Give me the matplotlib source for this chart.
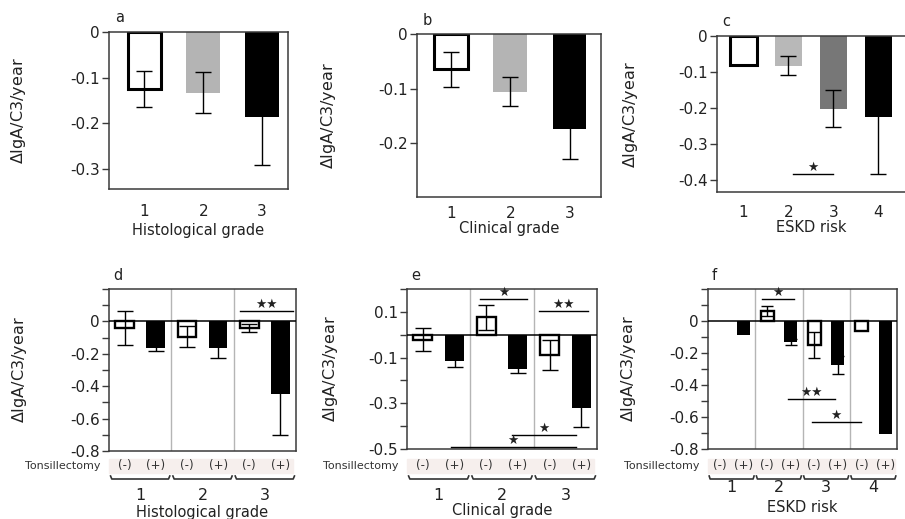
import matplotlib
matplotlib.use("Agg")
import matplotlib.pyplot as plt
import numpy as np
from matplotlib.transforms import blended_transform_factory

plt.rcParams["font.family"] = ["DejaVu Sans"]
plt.rcParams["axes.unicode_minus"] = False

W, H = 905, 519
YLAB = "$\\mathit{\\Delta}$IgA/C3/year"

# ---- top row: overall change per category ----
hist_cats = ["1", "2", "3"]
hist_mean = [-0.125, -0.133, -0.187]
hist_err = [0.039, 0.045, 0.104]

clin_cats = ["1", "2", "3"]
clin_mean = [-0.064, -0.105, -0.174]
clin_err = [0.032, 0.026, 0.055]

eskd_cats = ["1", "2", "3", "4"]
eskd_mean = [-0.080, -0.082, -0.202, -0.224]
eskd_err = [0.0, 0.026, 0.052, 0.160]

# ---- bottom row: (-)/(+) tonsillectomy pairs per category ----
tx_labels = ["(-)", "(+)"]
hist_tx_mean = [-0.043, -0.165, -0.094, -0.165, -0.041, -0.447]
hist_tx_err = [0.105, 0.015, 0.064, 0.060, 0.025, 0.253]
clin_tx_mean = [-0.021, -0.116, 0.076, -0.148, -0.088, -0.322]
clin_tx_err = [0.050, 0.027, 0.055, 0.020, 0.067, 0.082]
eskd_tx_mean = [np.nan, -0.085, 0.065, -0.133, -0.150, -0.275, -0.060, -0.708]
eskd_tx_err = [0.0, 0.0, 0.031, 0.019, 0.083, 0.058, 0.0, 0.0]

# significance bars: (x from, x to, y, stars)
sig_c = [(1.1, 2.0, -0.382, "★")]
sig_d = [(3.7, 5.4, 0.063, "★★")]
sig_e = [(1.8, 3.3, 0.158, "★"), (3.66, 5.2, 0.103, "★★"),
         (2.8, 4.83, -0.439, "★"), (0.88, 4.83, -0.49, "★")]
sig_f = [(1.77, 3.14, 0.135, "★"), (2.89, 4.88, -0.49, "★★"),
         (3.89, 5.97, -0.629, "★")]


def px_rect(x0, y0, x1, y1):
    return [x0 / W, 1 - y1 / H, (x1 - x0) / W, (y1 - y0) / H]


def fy(ypix):
    return 1 - ypix / H


fig = plt.figure(figsize=(W / 100, H / 100), dpi=100)
fig.patch.set_facecolor("white")

SPINE = "#3a3a3a"
TXT = "#222222"


def style_axes(ax, right=True):
    for s in ax.spines.values():
        s.set_color(SPINE)
        s.set_linewidth(1.1)
    ax.spines["right"].set_visible(right)
    ax.tick_params(axis="y", direction="out", length=5, width=1.0,
                   color=SPINE, pad=1.5, labelsize=11, labelcolor=TXT)


def draw_sig(ax, sigs):
    for x0, x1, y, st in sigs:
        ax.plot([x0, x1], [y, y], color="black", lw=1.0, zorder=5)
        ax.text((x0 + x1) / 2, y, st, ha="center", va="bottom",
                fontsize=9, color=TXT, zorder=6)


def top_panel(rect, cats, mean, err, colors, ylim, yticks, xlim, xlabel,
              letter, ylab_px, right=True, width=0.57, tpad=9, lpad=0):
    ax = fig.add_axes(px_rect(*rect))
    x = np.arange(len(cats))
    for i in range(len(cats)):
        if colors[i] == "open":
            ax.bar(x[i], mean[i], width, color="white", edgecolor="black",
                   linewidth=2.2, zorder=2)
        else:
            ax.bar(x[i], mean[i], width, color=colors[i], zorder=2)
        if err[i] > 0:
            ax.errorbar(x[i], mean[i], yerr=err[i], color="black",
                        elinewidth=1.0, capsize=6, capthick=1.0, zorder=3)
    ax.set_xlim(*xlim)
    ax.set_ylim(*ylim)
    ax.set_yticks(yticks)
    ax.set_yticklabels(["0" if t == 0 else f"{t:.1f}" for t in yticks])
    ax.set_xticks(x)
    ax.set_xticklabels(cats, fontsize=11, color=TXT)
    ax.tick_params(axis="x", length=0, pad=tpad)
    ax.set_xlabel(xlabel, fontsize=10.5, labelpad=lpad, color=TXT)
    style_axes(ax, right)
    ax.set_ylabel(YLAB, fontsize=11.5, va="center", color=TXT)
    ax.yaxis.set_label_coords((ylab_px - rect[0]) / (rect[2] - rect[0]), 0.5)
    fig.text((rect[0] + 6) / W, fy(rect[1] - 14), letter, fontsize=10.5,
             ha="left", va="center", color=TXT)
    return ax


def bottom_panel(rect, mean, err, ngroups, ylim, yticks, ylabels, xlabel,
                 letter, ylab_px, num_py, xl_py, width=0.6, capsize=5.5):
    ax = fig.add_axes(px_rect(*rect))
    n = 2 * ngroups
    x = np.arange(n)
    for i in range(n):
        if np.isnan(mean[i]):
            continue
        if i % 2 == 0:
            ax.bar(x[i], mean[i], width, color="white", edgecolor="black",
                   linewidth=1.7, zorder=2)
        else:
            ax.bar(x[i], mean[i], width, color="black", zorder=2)
        if err[i] > 0:
            ax.errorbar(x[i], mean[i], yerr=err[i], color="black",
                        elinewidth=1.0, capsize=capsize, capthick=1.0, zorder=3)
    ax.axhline(0, color="black", lw=1.1, zorder=4)
    for g in range(1, ngroups):
        ax.axvline(2 * g - 0.5, color="#b5b5b5", lw=1.0, zorder=1)
    ax.set_xlim(-0.5, n - 0.5)
    ax.set_ylim(*ylim)
    ax.set_yticks(yticks)
    ax.set_yticklabels(ylabels)
    ax.set_xticks([])
    style_axes(ax, True)
    ax.set_ylabel(YLAB, fontsize=11.5, va="center", color=TXT)
    ax.yaxis.set_label_coords((ylab_px - rect[0]) / (rect[2] - rect[0]), 0.5)

    tr = blended_transform_factory(ax.transData, fig.transFigure)
    # tonsillectomy band
    band = plt.Rectangle((-0.5, fy(473)), n - 0.1, fy(459) - fy(473),
                         transform=tr, color="#f6efed", clip_on=False, zorder=0)
    ax.add_patch(band)
    for i in range(n):
        ax.text(x[i], fy(466), tx_labels[i % 2], transform=tr, ha="center",
                va="center", fontsize=8.5, color="#333333")
    fig.text((rect[0] - 9) / W, fy(466), "Tonsillectomy", ha="right",
             va="center", fontsize=8, color="#333333")
    # group braces + numbers
    yb, hook = fy(479), 3 / H
    for g in range(ngroups):
        xl, xr = 2 * g - 0.45, 2 * g + 1.45
        ax.plot([xl, xl + 0.04, xr - 0.04, xr], [yb + hook, yb, yb, yb + hook],
                transform=tr, color="#333333", lw=1.2, clip_on=False)
        ax.text(2 * g + 0.5, fy(num_py), str(g + 1), transform=tr,
                ha="center", va="center", fontsize=11.5, color=TXT)
    fig.text((rect[0] + rect[2]) / 2 / W, fy(xl_py), xlabel, ha="center",
             va="center", fontsize=10.5, color=TXT)
    fig.text((rect[0] + 4) / W, fy(rect[1] - 14), letter, fontsize=10.5,
             ha="left", va="center", color=TXT)
    return ax


# ---------------------------------------------------------------- top row
ax_a = top_panel((109, 31.7, 288, 189), hist_cats, hist_mean, hist_err,
                 ["open", "#b4b4b4", "black"], (-0.343, 0), [0, -0.1, -0.2, -0.3],
                 (-0.6, 2.44), "Histological grade", "a", 19, tpad=11, lpad=3)
ax_b = top_panel((416.7, 34.3, 601, 196.7), clin_cats, clin_mean, clin_err,
                 ["open", "#b4b4b4", "black"], (-0.298, 0), [0, -0.1, -0.2],
                 (-0.58, 2.53), "Clinical grade", "b", 329, tpad=7)
ax_c = top_panel((716.7, 36, 905, 192.3), eskd_cats, eskd_mean, eskd_err,
                 ["open", "#b8b8b8", "#777777", "black"], (-0.434, 0),
                 [0, -0.1, -0.2, -0.3, -0.4], (-0.59, 3.59), "ESKD risk", "c",
                 630, right=False, width=0.6, tpad=9)
draw_sig(ax_c, sig_c)

# ------------------------------------------------------------- bottom row
ticks_08 = [0.2, 0.1, 0, -0.1, -0.2, -0.3, -0.4, -0.5, -0.6, -0.7, -0.8]
labs_08 = ["", "", "0", "", "-0.2", "", "-0.4", "", "-0.6", "", "-0.8"]
ticks_05 = [0.2, 0.1, 0, -0.1, -0.2, -0.3, -0.4, -0.5]
labs_05 = ["", "0.1", "", "-0.1", "", "-0.3", "", "-0.5"]

ax_d = bottom_panel((109, 289, 296, 451), hist_tx_mean, hist_tx_err, 3,
                    (-0.8, 0.2), ticks_08, labs_08, "Histological grade", "d",
                    19, 495, 513)
draw_sig(ax_d, sig_d)
ax_e = bottom_panel((407, 289, 597, 449), clin_tx_mean, clin_tx_err, 3,
                    (-0.5, 0.2), ticks_05, labs_05, "Clinical grade", "e",
                    330, 495, 511)
draw_sig(ax_e, sig_e)
ax_f = bottom_panel((708, 289, 897, 449), eskd_tx_mean, eskd_tx_err, 4,
                    (-0.8, 0.2), ticks_08, labs_08, "ESKD risk", "f",
                    628, 488, 507, width=0.55, capsize=4.5)
draw_sig(ax_f, sig_f)

fig.savefig("out.png", dpi=100)
